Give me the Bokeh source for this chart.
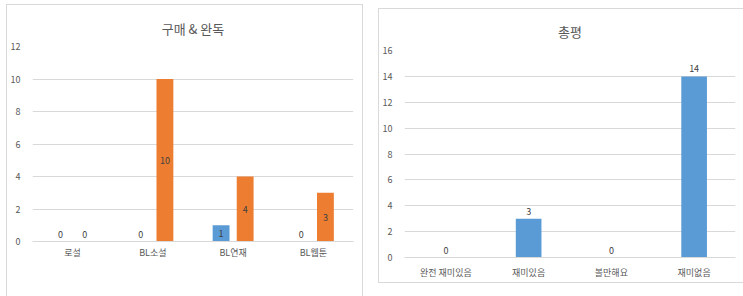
from bokeh.plotting import figure
from bokeh.models import ColumnDataSource, FactorRange, FixedTicker, Legend, LegendItem, Range1d, Title
from bokeh.transform import dodge
from bokeh.layouts import row
from bokeh.core.properties import value
from bokeh.embed import file_html
from bokeh.resources import INLINE

# ---- data ----
left_title = "구매 & 완독"
left_cats = ["로설", "BL소설", "BL연재", "BL웹툰"]
buy = [0, 0, 1, 0]
finish = [0, 10, 4, 3]
left_ticks = [0, 2, 4, 6, 8, 10, 12]

right_title = "총평"
right_cats = ["완전 재미있음", "재미있음", "볼만해요", "재미없음"]
review = [0, 3, 0, 14]
right_ticks = [0, 2, 4, 6, 8, 10, 12, 14, 16]

FONT = "Noto Sans CJK KR"
BLUE = "#5B9BD5"
ORANGE = "#ED7D31"
GRID = "#D9D9D9"
TXT = "#595959"
LBL = "#404040"
SMALL = "9px"


def style(p, ticks, title_standoff, label_standoff):
    p.title.align = "center"
    p.title.text_font = FONT
    p.title.text_font_size = "13px"
    p.title.text_font_style = "normal"
    p.title.text_color = TXT
    p.title.standoff = title_standoff
    p.outline_line_color = None
    p.xgrid.grid_line_color = None
    p.ygrid.grid_line_color = GRID
    p.ygrid.ticker = FixedTicker(ticks=ticks)
    p.yaxis.ticker = FixedTicker(ticks=ticks)
    p.yaxis.axis_line_color = None
    p.yaxis.major_tick_line_color = None
    p.yaxis.minor_tick_line_color = None
    p.yaxis.major_label_text_font = FONT
    p.yaxis.major_label_text_font_size = SMALL
    p.yaxis.major_label_text_color = TXT
    p.yaxis.major_label_standoff = 6
    p.xaxis.axis_line_color = GRID
    p.xaxis.major_tick_line_color = None
    p.xaxis.minor_tick_line_color = None
    p.xaxis.major_label_text_font = FONT
    p.xaxis.major_label_text_font_size = SMALL
    p.xaxis.major_label_text_color = TXT
    p.xaxis.major_label_standoff = label_standoff
    p.styles = {"border": "1px solid #D9D9D9"}


# ---- left chart ----
src_l = ColumnDataSource(dict(cat=left_cats, buy=buy, finish=finish))
zb = [i for i, v in enumerate(buy) if v == 0]
nb = [i for i, v in enumerate(buy) if v != 0]
zf = [i for i, v in enumerate(finish) if v == 0]
nf = [i for i, v in enumerate(finish) if v != 0]

p1 = figure(frame_width=319, frame_height=193, x_range=FactorRange(*left_cats), y_range=Range1d(0, 12),
            output_backend="svg", toolbar_location=None, title=left_title,
            min_border_left=22, min_border_right=11, min_border_top=41, min_border_bottom=0,
            margin=(4, 0, 0, 6))
style(p1, left_ticks, 18, -2)
r_buy = p1.vbar(x=dodge("cat", -0.15, range=p1.x_range), top="buy", width=0.21, source=src_l,
                fill_color=BLUE, line_color=None)
r_fin = p1.vbar(x=dodge("cat", 0.15, range=p1.x_range), top="finish", width=0.21, source=src_l,
                fill_color=ORANGE, line_color=None)

for idx, vals, off in [(nb, buy, -0.15), (nf, finish, 0.15)]:
    s = ColumnDataSource(dict(cat=[left_cats[i] for i in idx], y=[vals[i] / 2 for i in idx],
                              t=[str(vals[i]) for i in idx]))
    p1.text(x=dodge("cat", off, range=p1.x_range), y="y", text="t", source=s,
            text_font=value(FONT), text_font_size=value(SMALL), text_color=LBL,
            text_align="center", text_baseline="middle")
for idx, vals, off in [(zb, buy, -0.15), (zf, finish, 0.15)]:
    s = ColumnDataSource(dict(cat=[left_cats[i] for i in idx], y=[vals[i] for i in idx],
                              t=[str(vals[i]) for i in idx]))
    p1.text(x=dodge("cat", off, range=p1.x_range), y="y", text="t", source=s,
            text_font=value(FONT), text_font_size=value(SMALL), text_color=LBL,
            text_align="center", text_baseline="bottom", y_offset=-4)

legend = Legend(items=[LegendItem(label="구매", renderers=[r_buy]),
                       LegendItem(label="완독", renderers=[r_fin])],
                orientation="horizontal", location="center",
                glyph_width=6, glyph_height=6, label_height=9, label_standoff=2, spacing=8,
                label_text_font=FONT, label_text_font_size=SMALL, label_text_color=TXT,
                border_line_color=None, background_fill_alpha=0, padding=0, margin=6)
p1.add_layout(legend, "below")
p1.add_layout(Title(text=" ", text_font_size="8px", standoff=0), "below")

# ---- right chart ----
src_r = ColumnDataSource(dict(cat=right_cats, v=review, t=[str(v) for v in review]))
p2 = figure(frame_width=329, frame_height=205, x_range=FactorRange(*right_cats), y_range=Range1d(0, 16),
            output_backend="svg", toolbar_location=None, title=right_title,
            min_border_left=24, min_border_right=10, min_border_top=41, min_border_bottom=27,
            margin=(8, 0, 0, 15))
style(p2, right_ticks, 20, 2)
p2.vbar(x="cat", top="v", width=0.31, source=src_r, fill_color=BLUE, line_color=None)
p2.text(x="cat", y="v", text="t", source=src_r,
        text_font=value(FONT), text_font_size=value(SMALL), text_color=LBL,
        text_align="center", text_baseline="bottom", y_offset=-4)

layout = row(p1, p2)
open("out.html", "w").write(file_html(layout, INLINE))
